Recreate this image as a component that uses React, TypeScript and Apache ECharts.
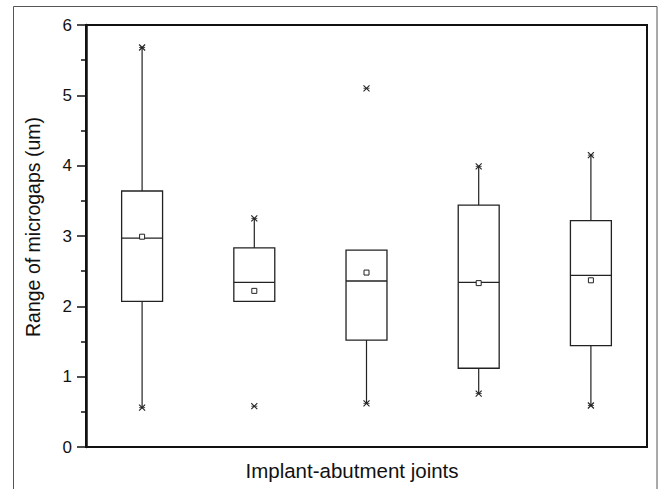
import React, { useEffect, useRef } from 'react';
import * as echarts from 'echarts';

const categories = ['Joint 1', 'Joint 2', 'Joint 3', 'Joint 4', 'Joint 5'];
const q1Values = [2.07, 2.07, 1.52, 1.12, 1.44];
const q3Values = [3.64, 2.83, 2.8, 3.44, 3.22];
const medianValues = [2.97, 2.34, 2.36, 2.34, 2.44];
const meanValues = [2.99, 2.22, 2.48, 2.33, 2.37];
const whiskerLow: (number | null)[] = [0.56, null, 0.62, 0.76, 0.59];
const whiskerHigh: (number | null)[] = [5.68, 3.25, null, 3.99, 4.15];
const minMarks = [0.56, 0.58, 0.62, 0.76, 0.59];
const maxMarks = [5.68, 3.25, 5.1, 3.99, 4.15];
const yTicks = [0, 6, 1];
const yTitle = 'Range of microgaps (um)';
const xTitle = 'Implant-abutment joints';

const FONT = 'Liberation Sans, Arial, sans-serif';
const INK = '#222';

export default function App() {
  const ref = useRef<HTMLDivElement>(null);
  useEffect(() => {
    const chart = echarts.init(ref.current!, null, { renderer: 'svg' });
    const renderItem = (params: any, api: any) => {
      const i = params.dataIndex;
      const bw = api.size([1, 0])[0] * 0.365;
      const [cx, yQ1] = api.coord([i, q1Values[i]]);
      const yQ3 = api.coord([i, q3Values[i]])[1];
      const yMed = api.coord([i, medianValues[i]])[1];
      const yMean = api.coord([i, meanValues[i]])[1];
      const children: any[] = [];
      const ls = { stroke: INK, lineWidth: 1.2, fill: null };
      if (whiskerLow[i] !== null) {
        const y = api.coord([i, whiskerLow[i]])[1];
        children.push({ type: 'line', shape: { x1: cx, y1: yQ1, x2: cx, y2: y }, style: ls });
      }
      if (whiskerHigh[i] !== null) {
        const y = api.coord([i, whiskerHigh[i]])[1];
        children.push({ type: 'line', shape: { x1: cx, y1: yQ3, x2: cx, y2: y }, style: ls });
      }
      children.push({
        type: 'rect',
        shape: { x: cx - bw / 2, y: yQ3, width: bw, height: yQ1 - yQ3 },
        style: { fill: '#fff', stroke: INK, lineWidth: 1.3 },
      });
      children.push({ type: 'line', shape: { x1: cx - bw / 2, y1: yMed, x2: cx + bw / 2, y2: yMed }, style: { stroke: INK, lineWidth: 1.3 } });
      children.push({
        type: 'rect',
        shape: { x: cx - 2.5, y: yMean - 2.5, width: 5, height: 5 },
        style: { fill: '#fff', stroke: INK, lineWidth: 1 },
      });
      [minMarks[i], maxMarks[i]].forEach((v) => {
        const y = api.coord([i, v])[1];
        const s = 3;
        const ms = { stroke: INK, lineWidth: 1.1 };
        children.push({ type: 'line', shape: { x1: cx - s, y1: y - s, x2: cx + s, y2: y + s }, style: ms });
        children.push({ type: 'line', shape: { x1: cx + s, y1: y - s, x2: cx - s, y2: y + s }, style: ms });
        children.push({ type: 'line', shape: { x1: cx - s, y1: y, x2: cx + s, y2: y }, style: { stroke: INK, lineWidth: 0.8 } });
      });
      return { type: 'group', children };
    };
    chart.setOption({
      animation: false,
      backgroundColor: '#fff',
      grid: {
        left: 86,
        right: 12,
        top: 25,
        bottom: 42,
        show: true,
        borderColor: '#111',
        borderWidth: 2,
        backgroundColor: 'transparent',
      },
      xAxis: {
        type: 'category',
        data: categories,
        axisLine: { show: true, lineStyle: { color: '#111', width: 2 } },
        axisTick: { show: false },
        axisLabel: { show: false },
        splitLine: { show: false },
      },
      yAxis: {
        type: 'value',
        min: yTicks[0],
        max: yTicks[1],
        interval: yTicks[2],
        axisLine: { show: true, lineStyle: { color: '#111', width: 2.5 } },
        axisTick: { show: true, inside: false, length: 9, lineStyle: { color: '#111', width: 1.5 } },
        minorTick: { show: true, splitNumber: 2, length: 5, lineStyle: { color: '#111', width: 1.5 } },
        axisLabel: { fontSize: 17, color: '#111', margin: 14, fontFamily: FONT },
        splitLine: { show: false },
      },
      graphic: [
        {
          type: 'polyline',
          shape: { points: [[13.5, 489], [13.5, 6.5], [657, 6.5], [657, 489]] },
          style: { stroke: '#555', lineWidth: 1, fill: null },
          silent: true,
        },
        {
          type: 'text',
          x: 33,
          y: 227,
          rotation: Math.PI / 2,
          style: {
            text: yTitle,
            fontSize: 19.5,
            fontFamily: FONT,
            fill: '#111',
            align: 'center',
            verticalAlign: 'middle',
          },
        },
        {
          type: 'text',
          x: 352,
          y: 470,
          style: {
            text: xTitle,
            fontSize: 20.5,
            fontFamily: FONT,
            fill: '#111',
            align: 'center',
            verticalAlign: 'middle',
          },
        },
      ],
      series: [
        {
          type: 'custom',
          renderItem,
          encode: { x: 0, y: 1 },
          data: categories.map((c, i) => [i, medianValues[i]]),
          clip: false,
        },
      ],
    });
    return () => chart.dispose();
  }, []);
  return <div ref={ref} style={{ position: 'absolute', left: 0, top: 0, width: 659, height: 489 }} />;
}
